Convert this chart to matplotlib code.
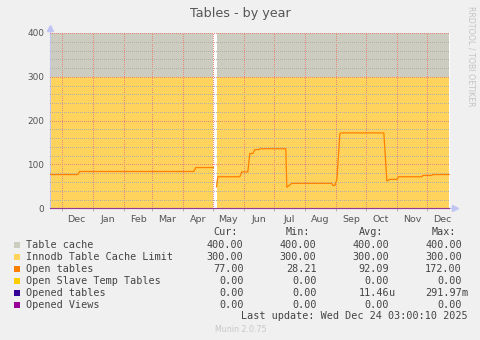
import matplotlib
matplotlib.use("Agg")
import matplotlib.pyplot as plt
import matplotlib.dates as mdates
from matplotlib.patches import Rectangle
import pandas as pd

# dados (munin, tabelas por ano)
inicio = "2024-11-19 06:00"
fim = "2025-12-24 03:00"

# areas: inicio e fim de cada trecho com dados (o buraco branco fica entre eles)
cache_ini = ["2024-11-19 06:00", "2025-05-04 18:00"]
cache_fim = ["2025-05-01 16:00", "2025-12-23 06:00"]
table_cache = 400
innodb_limit = 300

open_dates = ["2024-11-19 06:00", "2024-12-17", "2024-12-19", "2025-04-12", "2025-04-14",
              "2025-05-01 14:00", "2025-05-01 15:00",
              "2025-05-04 18:00", "2025-05-06", "2025-05-28", "2025-05-30", "2025-06-05",
              "2025-06-07", "2025-06-10", "2025-06-12", "2025-06-16", "2025-06-17",
              "2025-07-13", "2025-07-14", "2025-07-19", "2025-08-28", "2025-08-29",
              "2025-08-31", "2025-09-02", "2025-09-05", "2025-09-06", "2025-10-19",
              "2025-10-22", "2025-10-25", "2025-11-01", "2025-11-03", "2025-11-26",
              "2025-11-27", "2025-12-06", "2025-12-07", "2025-12-23 06:00"]
open_vals = [77, 77, 84, 84, 93,
             93, None,
             49, 72, 72, 83, 83,
             125, 125, 134, 134, 136,
             136, 48, 57, 57, 52,
             52, 65, 170, 172, 172,
             62, 66, 66, 72, 72,
             75, 75, 77, 77]

nomes = ["Table cache", "Innodb Table Cache Limit", "Open tables",
         "Open Slave Temp Tables", "Opened tables", "Opened Views"]
cores = ["#cccdc0", "#ffd35c", "#ff8000", "#ffcc00", "#330099", "#990099"]
cur = ["400.00", "300.00", "77.00", "0.00", "0.00", "0.00"]
mins = ["400.00", "300.00", "28.21", "0.00", "0.00", "0.00"]
avg = ["400.00", "300.00", "92.09", "0.00", "11.46", "0.00"]
avg_u = ["", "", "", "", "u", ""]
maxs = ["400.00", "300.00", "172.00", "0.00", "291.97", "0.00"]
max_u = ["", "", "", "", "m", ""]
meses = ["Dec", "Jan", "Feb", "Mar", "Apr", "May", "Jun", "Jul", "Aug", "Sep", "Oct", "Nov", "Dec"]

W, H = 481, 340
cinza = "#555555"
lavanda = "#c0c4f4"


def px(x, y):  # pixel -> fracao da figura
    return x / W, 1 - y / H


fig = plt.figure(figsize=(W / 100, H / 100), dpi=100, facecolor="#f0f0f0")
ax = fig.add_axes([50 / W, 1 - 208.3 / H, 400 / W, 175.3 / H])
ax.set_facecolor("white")

# areas
for a, b in zip(cache_ini, cache_fim):
    d = pd.to_datetime([a, b], format="mixed")
    ax.fill_between(d, [table_cache, table_cache], 0, color=cores[0], lw=0, zorder=1)
    ax.fill_between(d, [innodb_limit, innodb_limit], 0, color=cores[1], lw=0, zorder=1.1)

# linhas
od = pd.to_datetime(open_dates, format="mixed")
ov = [float("nan") if v is None else v for v in open_vals]
ax.plot(od, ov, color=cores[2], lw=0.9, zorder=4)
tudo = pd.to_datetime([inicio, "2025-12-23 06:00"])
for c in cores[3:]:
    ax.plot(tudo, [0, 0], color=c, lw=0.8, alpha=0.45, zorder=4, clip_on=False)

ax.set_xlim(pd.Timestamp(inicio), pd.Timestamp(fim))
ax.set_ylim(0, 400)

# grade (pontilhada, sem antialias pra ficar parecida com o rrdtool)
ax.set_yticks([0, 100, 200, 300, 400])
ax.set_yticks(range(0, 401, 20), minor=True)
ax.xaxis.set_minor_locator(mdates.MonthLocator())
ax.set_xticks(pd.date_range("2024-12-01", "2025-12-01", freq="MS") + pd.Timedelta(days=15))
ax.set_xticklabels(meses)
ax.set_axisbelow(False)
ax.grid(False)
ponto = (0, (1, 2))
ax.yaxis.grid(True, which="minor", color="#b0b0a8", lw=0.72, ls=ponto, antialiased=False)
ax.yaxis.grid(True, which="major", color="#e88878", lw=0.72, ls=ponto, antialiased=False)
ax.xaxis.grid(True, which="minor", color="#e88878", lw=0.72, ls=ponto, antialiased=False)

ax.tick_params(axis="y", which="both", length=0, pad=4.3, labelsize=6.4, labelcolor=cinza)
ax.tick_params(axis="x", which="major", length=0, pad=4.5, labelsize=6.8, labelcolor=cinza)
ax.tick_params(axis="x", which="minor", length=2, width=0.6, color="#aaaaaa")

for s in ["top", "right"]:
    ax.spines[s].set_visible(False)
ax.spines["left"].set_color(lavanda)
ax.spines["bottom"].set_color(lavanda)
ax.spines["left"].set_linewidth(0.8)
ax.spines["bottom"].set_linewidth(0.8)
# setas dos eixos
ax.plot([0, 0], [1, 1.03], color=lavanda, lw=0.8, transform=ax.transAxes, clip_on=False)
ax.plot([1, 1.012], [0, 0], color=lavanda, lw=0.8, transform=ax.transAxes, clip_on=False)
ax.plot([0], [1.03], marker="^", ms=4, color=lavanda, transform=ax.transAxes, clip_on=False)
ax.plot([1.013], [0], marker=">", ms=4, color=lavanda, transform=ax.transAxes, clip_on=False)

# titulo e textos
fig.text(*px(240.5, 13), "Tables - by year", ha="center", va="center", fontsize=9.2, color=cinza)
fig.text(*px(471.5, 56), "RRDTOOL / TOBI OETIKER", rotation=270, ha="center", va="center",
         fontsize=5.7, color="#c4c4c4")

mono = dict(family="DejaVu Sans Mono", fontsize=7.25, color="#444444", va="center")
cols = [243.5, 316.5, 389, 462]
for x, h in zip(cols, ["Cur:", "Min:", "Avg:", "Max:"]):
    fig.text(*px(x - 6.1, 232.3), h, ha="right", **mono)

for i, nome in enumerate(nomes):
    y = 244.7 + i * 12
    fig.patches.append(Rectangle(px(14.3, y + 3), 6 / W, 6 / H, transform=fig.transFigure,
                                 color=cores[i], lw=0))
    fig.text(*px(26.5, y), nome, ha="left", **mono)
    for x, v in zip(cols, [cur[i], mins[i], avg[i], maxs[i]]):
        fig.text(*px(x, y), v, ha="right", **mono)
    if avg_u[i]:
        fig.text(*px(cols[2], y), avg_u[i], ha="left", **mono)
    if max_u[i]:
        fig.text(*px(cols[3], y), max_u[i], ha="left", **mono)

fig.text(*px(467.7, 316), "Last update: Wed Dec 24 03:00:10 2025", ha="right", **mono)
fig.text(*px(240.5, 329.5), "Munin 2.0.75", ha="center", va="center", fontsize=5.7, color="#c8c8c8")

fig.savefig("out.png", dpi=100, facecolor=fig.get_facecolor())
